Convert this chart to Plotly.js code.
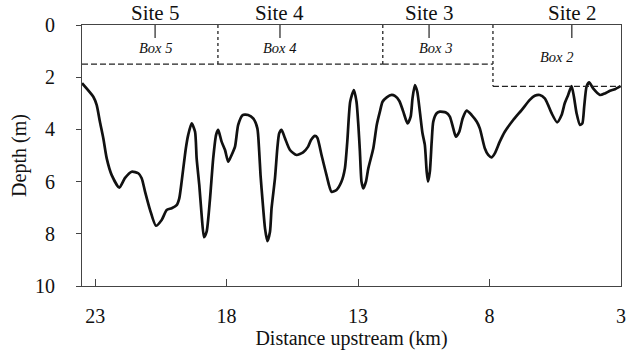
<!DOCTYPE html>
<html>
<head>
<meta charset="utf-8">
<script src="https://cdn.plot.ly/plotly-3.0.1.min.js"></script>
<style>html,body{margin:0;padding:0;background:#fff}#chart{width:634px;height:355px}</style>
</head>
<body>
<div id="chart"></div>
<script>
// Depth profile (distance upstream in km, depth in m)
var distanceKm = [23.5,23.07,22.94,22.82,22.69,22.56,22.37,22.08,21.87,21.61,21.36,21.23,21.10,20.91,20.69,20.47,20.28,20.09,19.90,19.80,19.71,19.55,19.46,19.33,19.20,19.14,19.04,18.95,18.86,18.76,18.63,18.51,18.40,18.32,18.19,18.06,17.94,17.81,17.68,17.56,17.39,17.18,16.99,16.83,16.76,16.71,16.63,16.54,16.45,16.35,16.29,16.16,16.07,16.00,15.91,15.78,15.59,15.34,15.09,14.90,14.79,14.64,14.55,14.39,14.20,14.01,13.82,13.63,13.50,13.41,13.30,13.16,13.06,12.99,12.93,12.87,12.80,12.70,12.61,12.42,12.29,12.17,12.07,11.91,11.72,11.60,11.43,11.28,11.12,11.00,10.93,10.84,10.75,10.65,10.55,10.46,10.39,10.34,10.27,10.20,10.14,10.01,9.89,9.66,9.51,9.38,9.28,9.15,9.02,8.87,8.68,8.49,8.37,8.18,8.05,7.92,7.80,7.61,7.42,7.10,6.78,6.47,6.28,6.09,5.90,5.77,5.64,5.43,5.26,5.14,5.01,4.88,4.79,4.69,4.56,4.47,4.40,4.31,4.21,4.06,3.80,3.61,3.42,3.23,3.02];
var depthM = [2.23,2.75,3.07,3.70,4.34,5.11,5.75,6.23,5.87,5.62,5.68,5.87,6.39,7.09,7.69,7.47,7.09,7.02,6.90,6.64,6.00,4.72,4.21,3.77,4.09,5.11,6.13,7.28,8.13,7.92,6.64,5.11,4.21,4.02,4.47,4.79,5.24,4.98,4.66,3.83,3.45,3.45,3.58,3.96,4.85,5.75,6.77,7.79,8.28,7.92,7.02,5.87,4.72,4.15,4.02,4.34,4.79,4.98,4.88,4.66,4.41,4.25,4.32,4.98,5.75,6.39,6.32,6.00,5.49,4.47,2.94,2.49,2.94,3.83,4.85,6.00,6.26,6.00,5.49,4.72,3.83,3.32,2.94,2.77,2.68,2.72,2.91,3.32,3.77,3.51,2.81,2.30,2.55,3.32,4.15,4.60,5.62,6.00,5.62,4.47,3.70,3.38,3.32,3.35,3.51,3.96,4.28,4.09,3.57,3.28,3.45,3.70,3.96,4.72,4.98,5.07,4.92,4.47,4.09,3.64,3.26,2.87,2.71,2.68,2.81,3.07,3.38,3.73,3.45,3.00,2.68,2.34,2.75,3.38,3.83,3.77,3.13,2.36,2.20,2.43,2.68,2.62,2.52,2.46,2.34];

// Sites
var siteNames = ["Site 5","Site 4","Site 3","Site 2"];
var siteKm = [20.72,15.97,10.3,4.87];
var siteTickDepth = 0.5;

// Boxes
var boxNames = ["Box 5","Box 4","Box 3","Box 2"];
var boxLabelKm = [20.72,15.97,10.04,5.44];
var boxLabelDepth = [0.88,0.88,0.88,1.23];
var boxLeftKm = [23.5,18.33,12.06,7.87];
var boxRightKm = [18.33,12.06,7.87,3.0];
var boxDepth = [1.5,1.5,1.5,2.35];

var xTicks = [23,18,13,8,3];
var yTicks = [0,2,4,6,8,10];

var FONT = "Liberation Serif, Times New Roman, serif";

var shapes = [];
for (var i = 0; i < siteKm.length; i++) {
  shapes.push({type:"line", xref:"x", yref:"y", x0:siteKm[i], x1:siteKm[i], y0:0, y1:siteTickDepth,
    line:{color:"#222", width:1.2}});
}
for (var j = 0; j < boxNames.length; j++) {
  shapes.push({type:"line", xref:"x", yref:"y", x0:boxLeftKm[j], x1:boxRightKm[j], y0:boxDepth[j], y1:boxDepth[j],
    line:{color:"#222", width:1.3, dash:"6px,3px"}});
  if (j > 0) {
    shapes.push({type:"line", xref:"x", yref:"y", x0:boxLeftKm[j], x1:boxLeftKm[j], y0:0,
      y1:Math.max(boxDepth[j], boxDepth[j-1]), line:{color:"#222", width:1.3, dash:"3px,3px"}});
  }
}

var annotations = [];
for (var k = 0; k < siteNames.length; k++) {
  annotations.push({x:siteKm[k], y:1, xref:"x", yref:"paper", yanchor:"bottom", showarrow:false,
    text:siteNames[k], font:{family:FONT, size:21, color:"#111"}, yshift:-2});
}
for (var m = 0; m < boxNames.length; m++) {
  annotations.push({x:boxLabelKm[m], y:boxLabelDepth[m], xref:"x", yref:"y", showarrow:false,
    text:"<i>"+boxNames[m]+"</i>", font:{family:FONT, size:14.5, color:"#111"}});
}

var trace = {x:distanceKm, y:depthM, type:"scatter", mode:"lines",
  line:{color:"#111", width:2.7, shape:"spline", smoothing:0.6}, hoverinfo:"skip"};

var layout = {
  width:634, height:355,
  margin:{l:82, r:13, t:25, b:69},
  paper_bgcolor:"#fff", plot_bgcolor:"#fff",
  showlegend:false,
  font:{family:FONT, color:"#111"},
  xaxis:{range:[23.5,3], tickvals:xTicks, ticktext:xTicks.map(String), ticks:"inside", ticklen:7,
    tickcolor:"#444", showgrid:false, zeroline:false, showline:true, linecolor:"#444", linewidth:1,
    mirror:true, tickfont:{family:FONT, size:20, color:"#111"}, ticklabelstandoff:12,
    title:{text:"Distance upstream (km)", font:{family:FONT, size:20, color:"#111"}, standoff:1}},
  yaxis:{range:[10,0], tickvals:yTicks, ticks:"outside", ticklen:5, tickcolor:"#444",
    showgrid:false, zeroline:false, showline:true, linecolor:"#444", linewidth:1, mirror:true,
    tickfont:{family:FONT, size:20, color:"#111"}, ticklabelstandoff:17,
    title:{text:"Depth (m)", font:{family:FONT, size:20, color:"#111"}, standoff:3}},
  shapes:shapes,
  annotations:annotations
};

Plotly.newPlot("chart", [trace], layout, {displayModeBar:false, staticPlot:true});
</script>
</body>
</html>
